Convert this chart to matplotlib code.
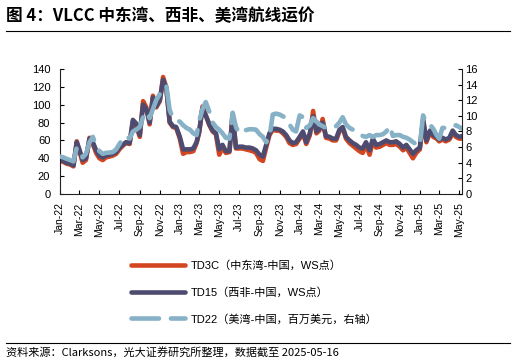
import matplotlib
matplotlib.use("Agg")
import matplotlib.pyplot as plt
import matplotlib.dates as mdates
from matplotlib.lines import Line2D
import pandas as pd

plt.rcParams["font.family"] = ["Liberation Sans", "Noto Sans CJK SC", "DejaVu Sans"]

# 每月 1 / 11 / 21 日取点，2022-01 ~ 2025-05
months = pd.date_range("2022-01-01", "2025-05-01", freq="MS")
dates = [m + pd.Timedelta(days=d) for m in months for d in (0, 10, 20)][:-1]

# TD3C（中东湾-中国，WS点）
td3c = [37, 36, 34, 33, 31, 59, 48, 35, 38, 63, 56, 46, 40, 38, 41, 42, 43, 45,
        50, 54, 57, 56, 81, 76, 64, 104, 97, 78, 110, 97, 104, 131, 119, 80, 75, 74,
        62, 45, 47, 47, 48, 57, 69, 98, 88, 77, 70, 67, 44, 52, 46, 47, 90, 51,
        51, 51, 50, 49, 48, 46, 39, 37, 52, 66, 72, 71, 71, 68, 64, 57, 55, 56,
        62, 68, 56, 66, 93, 68, 71, 84, 63, 62, 60, 60, 70, 74, 62, 57, 54, 51,
        48, 46, 55, 44, 59, 52, 53, 55, 57, 55, 55, 56, 53, 49, 52, 46, 40, 46,
        50, 82, 58, 69, 64, 62, 59, 61, 59, 61, 68, 64, 62, 62]

# TD15（西非-中国，WS点）
td15 = [38, 37, 35, 34, 32, 58, 50, 38, 40, 62, 58, 49, 43, 41, 43, 44, 45, 47,
        52, 55, 58, 57, 83, 79, 66, 100, 95, 80, 108, 98, 105, 128, 118, 81, 76, 75,
        64, 50, 50, 50, 51, 58, 70, 96, 88, 78, 71, 68, 50, 55, 48, 48, 88, 52,
        53, 53, 52, 52, 51, 49, 44, 42, 55, 68, 73, 73, 72, 70, 66, 60, 57, 58,
        64, 70, 58, 68, 87, 70, 73, 80, 65, 64, 62, 62, 72, 75, 64, 60, 57, 55,
        52, 51, 58, 49, 62, 55, 56, 58, 60, 58, 58, 59, 56, 52, 55, 50, 45, 49,
        52, 84, 60, 71, 66, 64, 61, 63, 61, 63, 71, 66, 64, 65]

# TD22（美湾-中国，百万美元，右轴）
td22 = [4.80, 4.69, 4.51, 4.34, 4.17, 5.94, 5.71, 4.69, 5.14, 6.63, 7.31, 6.17,
        5.49, 5.14, 5.26, 5.31, 5.37, 5.71, 6.40, 7.09, 7.43, 7.09, 8.00, 8.23,
        8.57, 9.83, 10.51, 9.71, 10.86, 12.00, 12.80, 13.03, 13.83, 10.74, 9.71, 9.49,
        9.26, 8.80, 8.46, 8.23, 7.77, 7.54, 9.37, 10.86, 11.77, 10.51, 9.14, 8.57,
        8.23, 7.77, 7.20, 7.09, 10.40, 8.57, 7.77, 8.00, 8.17, 8.29, 8.29, 8.23,
        7.66, 7.31, 6.63, 7.20, 10.17, 10.29, 10.17, 9.94, 9.71, 8.91, 8.23, 8.00,
        10.06, 9.83, 8.46, 8.80, 9.71, 9.26, 8.91, 8.69, 8.46, 8.46, 8.46, 8.69,
        9.14, 9.83, 8.91, 8.46, 8.23, 7.89, 7.66, 7.43, 7.31, 7.54, 7.31, 7.54,
        7.54, 7.66, 8.00, 8.69, 7.43, 7.54, 7.54, 7.31, 7.20, 6.97, 6.63, 6.40,
        6.17, 10.06, 9.03, 8.91, 8.34, 7.54, 7.09, 8.46, 8.46, 8.46, 8.69, 8.80, 8.57, 8.34]

labels = ["TD3C（中东湾-中国，WS点）", "TD15（西非-中国，WS点）",
          "TD22（美湾-中国，百万美元，右轴）"]

RED = "#D4461F"
DARK = "#4E4B70"
BLUE = "#86B1C7"

fig = plt.figure(figsize=(5.16, 3.64), dpi=100)
ax = fig.add_axes([60 / 516, 1 - 194 / 364, 402.5 / 516, 125 / 364])
ax2 = ax.twinx()

l1, = ax.plot(dates, td3c, color=RED, lw=3.3, solid_capstyle="round", label=labels[0])
l2, = ax.plot(dates, td15, color=DARK, lw=3.3, solid_capstyle="round", label=labels[1])
l3, = ax2.plot(dates, td22, color=BLUE, lw=3.3, dashes=(6, 2.6),
               dash_capstyle="round", label=labels[2])

ax.set_ylim(0, 140)
ax.set_yticks(range(0, 141, 20))
ax2.set_ylim(0, 16)
ax2.set_yticks(range(0, 17, 2))
ax.set_xlim(dates[0], dates[-1])
ax.xaxis.set_major_locator(mdates.MonthLocator(bymonth=[1, 3, 5, 7, 9, 11]))
ax.xaxis.set_major_formatter(mdates.DateFormatter("%b-%y"))

for a in (ax, ax2):
    a.spines["top"].set_visible(False)
    for s in a.spines.values():
        s.set_linewidth(0.8)
        s.set_color("#222222")
ax.spines["right"].set_visible(False)
ax2.spines["left"].set_visible(False)
ax2.spines["bottom"].set_visible(False)

ax.tick_params(axis="y", direction="in", length=3, width=0.8, labelsize=8, pad=7)
ax.tick_params(axis="x", direction="in", length=3, width=0.8, labelsize=7.5,
               pad=6, labelrotation=90)
ax2.tick_params(axis="y", direction="in", length=3, width=0.8, labelsize=8, pad=2)

fig.legend(handles=[l1, l2, l3], loc="upper left", bbox_to_anchor=(131 / 516, 1 - 260 / 364),
           frameon=False, fontsize=8, handlelength=4.9, handletextpad=0.45,
           labelspacing=1.45, borderpad=0, borderaxespad=0)

fig.text(6 / 516, 1 - 16 / 364, "图 4：VLCC 中东湾、西非、美湾航线运价",
         fontsize=12, fontweight="bold", family=["Noto Sans CJK SC"], va="center")
fig.add_artist(Line2D([6 / 516, 510 / 516], [1 - 31 / 364] * 2, color="black", lw=0.8))
fig.add_artist(Line2D([6 / 516, 510 / 516], [1 - 343 / 364] * 2, color="black", lw=0.8))
fig.text(6 / 516, 1 - 353 / 364, "资料来源：Clarksons，光大证券研究所整理，数据截至 2025-05-16",
         fontsize=8, family=["Noto Sans CJK SC"], va="center")

fig.savefig("out.png", dpi=100)
